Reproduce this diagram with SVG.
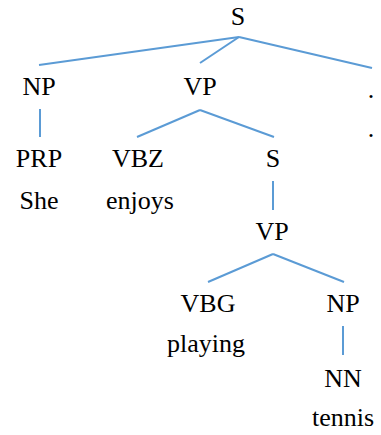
<svg xmlns="http://www.w3.org/2000/svg" width="381" height="435" viewBox="0 0 381 435">
<style>
.e{stroke:#5b9bd5;stroke-width:2;fill:none}
</style>
<rect width="381" height="435" fill="#fff"/>
<g id="edges">
<line class="e" x1="239" y1="37" x2="39" y2="65"/>
<line class="e" x1="239" y1="37" x2="200" y2="63"/>
<line class="e" x1="239" y1="37" x2="372" y2="68"/>
<line class="e" x1="40" y1="109" x2="40" y2="137"/>
<line class="e" x1="200" y1="110" x2="137" y2="137"/>
<line class="e" x1="200" y1="110" x2="274" y2="137"/>
<line class="e" x1="273" y1="181" x2="273" y2="210"/>
<line class="e" x1="273" y1="254" x2="208" y2="282"/>
<line class="e" x1="273" y1="254" x2="344" y2="282"/>
<line class="e" x1="343" y1="326" x2="343" y2="355"/>
</g>
<g font-family="Liberation Serif, DejaVu Serif, serif" font-size="26" text-anchor="middle" fill="#000">
<g id="n-S"><text x="238" y="25">S</text></g>
<g id="n-NP"><text x="39" y="95">NP</text></g>
<g id="n-VP"><text x="200" y="95">VP</text></g>
<g id="n-punct"><text x="371" y="98">.</text></g>
<g id="w-punct"><text x="371" y="137">.</text></g>
<g id="n-PRP"><text x="39" y="167">PRP</text></g>
<g id="w-She"><text x="39" y="209">She</text></g>
<g id="n-VBZ"><text x="138" y="167">VBZ</text></g>
<g id="w-enjoys"><text x="140" y="209">enjoys</text></g>
<g id="n-S2"><text x="273" y="167">S</text></g>
<g id="n-VP2"><text x="272" y="240">VP</text></g>
<g id="n-VBG"><text x="208" y="312">VBG</text></g>
<g id="w-playing"><text x="206" y="352">playing</text></g>
<g id="n-NP2"><text x="343" y="312">NP</text></g>
<g id="n-NN"><text x="343" y="387">NN</text></g>
<g id="w-tennis"><text x="343" y="426">tennis</text></g>
</g>
</svg>
